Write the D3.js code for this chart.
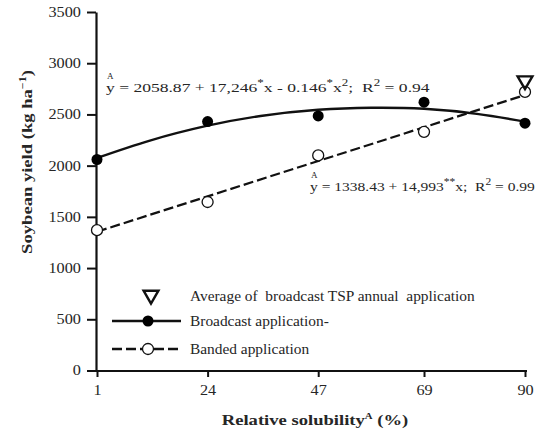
<!DOCTYPE html>
<html><head><meta charset="utf-8">
<script src="https://cdn.jsdelivr.net/npm/d3@7/dist/d3.min.js"></script>
<style>
body{margin:0;background:#fff;}
text{font-family:"Liberation Serif","DejaVu Serif",serif;fill:#262626;}
</style></head>
<body><svg id="c" width="541" height="433"></svg>
<script>
// Data
const solubility = [1, 24, 47, 69, 90];
const broadcast = [2060, 2430, 2485, 2620, 2415];
const banded = [1370, 1645, 2100, 2330, 2720];
const tspAverage = [{x: 90, y: 2830}];
// Fitted curves
const quadFitX = [1, 12, 24, 35, 47, 58, 69, 80, 90];
const quadFitY = [2075, 2245, 2390, 2485, 2545, 2565, 2555, 2505, 2430];
const linFitX = [1, 90];
const linFitY = [1355, 2690];
const yTicks = [0, 500, 1000, 1500, 2000, 2500, 3000, 3500];
const xTicks = [1, 24, 47, 69, 90];

const SX = 1.16; // horizontal stretch of the lettering in the reference
const svg = d3.select("#c");
const x = d3.scaleLinear().domain([1, 90]).range([97, 525]);
const y = d3.scaleLinear().domain([0, 3500]).range([370.5, 12]);

// axes
const ya = svg.append("g").attr("transform", "translate(96,0)")
  .call(d3.axisLeft(y).tickValues(yTicks).tickFormat(d3.format("d")).tickSize(9).tickPadding(4).tickSizeOuter(0));
const xa = svg.append("g").attr("transform", "translate(0,371)")
  .call(d3.axisBottom(x).tickValues(xTicks).tickFormat(d3.format("d")).tickSize(6).tickPadding(8).tickSizeOuter(0));
[ya, xa].forEach(a => {
  a.selectAll("path").attr("stroke", "#111").attr("stroke-width", 2.2);
  a.selectAll("line").attr("stroke", "#111").attr("stroke-width", 2);
  a.selectAll("text").style("font-family", '"Liberation Serif",serif').attr("font-size", 14)
    .attr("fill", "#262626").attr("transform", `scale(${SX},1)`);
});
xa.select("path").attr("d", "M96,0H527");

// fitted lines
svg.append("path").datum(quadFitX.map((v, i) => [v, quadFitY[i]]))
  .attr("d", d3.line().x(d => x(d[0])).y(d => y(d[1])).curve(d3.curveNatural))
  .attr("fill", "none").attr("stroke", "#111").attr("stroke-width", 2.4);
svg.append("path").datum(linFitX.map((v, i) => [v, linFitY[i]]))
  .attr("d", d3.line().x(d => x(d[0])).y(d => y(d[1])))
  .attr("fill", "none").attr("stroke", "#111").attr("stroke-width", 2.2).attr("stroke-dasharray", "10,4");

// points
svg.selectAll(".bc").data(solubility).enter().append("circle")
  .attr("cx", d => x(d)).attr("cy", (d, i) => y(broadcast[i])).attr("r", 5.5).attr("fill", "#000");
svg.selectAll(".bd").data(solubility).enter().append("circle")
  .attr("cx", d => x(d)).attr("cy", (d, i) => y(banded[i])).attr("r", 5.5)
  .attr("fill", "#fff").attr("stroke", "#111").attr("stroke-width", 1.3);
const tri = d3.symbol().type(d3.symbolTriangle).size(95);
svg.selectAll(".tr").data(tspAverage).enter().append("path")
  .attr("d", tri).attr("transform", d => `translate(${x(d.x)},${y(d.y)}) rotate(180)`)
  .attr("fill", "none").attr("stroke", "#111").attr("stroke-width", 2.4);

// stretched text helper
function stext(xp, yp, size, sx) {
  return svg.append("g").attr("transform", `translate(${xp},${yp}) scale(${sx},1)`)
    .append("text").attr("x", 0).attr("y", 0).attr("font-size", size)
    .attr("xml:space", "preserve").style("white-space", "pre");
}
// equations
function eq(xp, yp, sx, parts) {
  const t = stext(xp, yp, 13.5, sx);
  parts.forEach(p => {
    const s = t.append("tspan").text(p[0]);
    if (p[1] === "sup") s.attr("dy", -6).attr("font-size", 10);
    if (p[1] === "base") s.attr("dy", 6);
  });
  stext(xp + 1, yp - 13, 7.5, 1.2).text("A");
}
eq(106, 92, 1.3, [["y = 2058.87 + 17,246"], ["*", "sup"], ["x - 0.146", "base"], ["*", "sup"], ["x", "base"], ["2", "sup"], [";  R", "base"], ["2", "sup"], [" = 0.94", "base"]]);
eq(310, 191, 1.15, [["y = 1338.43 + 14,993"], ["**", "sup"], ["x;  R", "base"], ["2", "sup"], [" = 0.99", "base"]]);

// legend
const rows = [296, 321, 349];
svg.append("path").attr("d", tri).attr("transform", `translate(151,${rows[0] - 1}) rotate(180)`)
  .attr("fill", "none").attr("stroke", "#111").attr("stroke-width", 2.4);
svg.append("line").attr("x1", 112).attr("x2", 181).attr("y1", rows[1]).attr("y2", rows[1]).attr("stroke", "#111").attr("stroke-width", 2.4);
svg.append("circle").attr("cx", 148).attr("cy", rows[1]).attr("r", 5.5).attr("fill", "#000");
svg.append("line").attr("x1", 112).attr("x2", 181).attr("y1", rows[2]).attr("y2", rows[2]).attr("stroke", "#111").attr("stroke-width", 2.4).attr("stroke-dasharray", "10,4");
svg.append("circle").attr("cx", 148).attr("cy", rows[2]).attr("r", 5.5).attr("fill", "#fff").attr("stroke", "#111").attr("stroke-width", 1.3);
const labels = ["Average of  broadcast TSP annual  application", "Broadcast application-", "Banded application"];
labels.forEach((l, i) => stext(190, rows[i] + 4.5, 14, 1.1).text(l));

// axis titles
const xt = svg.append("g").attr("transform", `translate(315,425) scale(1.2,1)`).append("text")
  .attr("text-anchor", "middle").attr("font-size", 15.5).attr("font-weight", "bold");
xt.append("tspan").text("Relative solubility");
xt.append("tspan").text("A").attr("dy", -6).attr("font-size", 9);
xt.append("tspan").text(" (%)").attr("dy", 6);
const yt = svg.append("g").attr("transform", "translate(32,162) rotate(-90) scale(1.2,1)").append("text")
  .attr("text-anchor", "middle").attr("font-size", 15.5).attr("font-weight", "bold");
yt.append("tspan").text("Soybean yield (kg ha");
yt.append("tspan").text("−1").attr("dy", -6).attr("font-size", 10);
yt.append("tspan").text(")").attr("dy", 6);
</script></body></html>
